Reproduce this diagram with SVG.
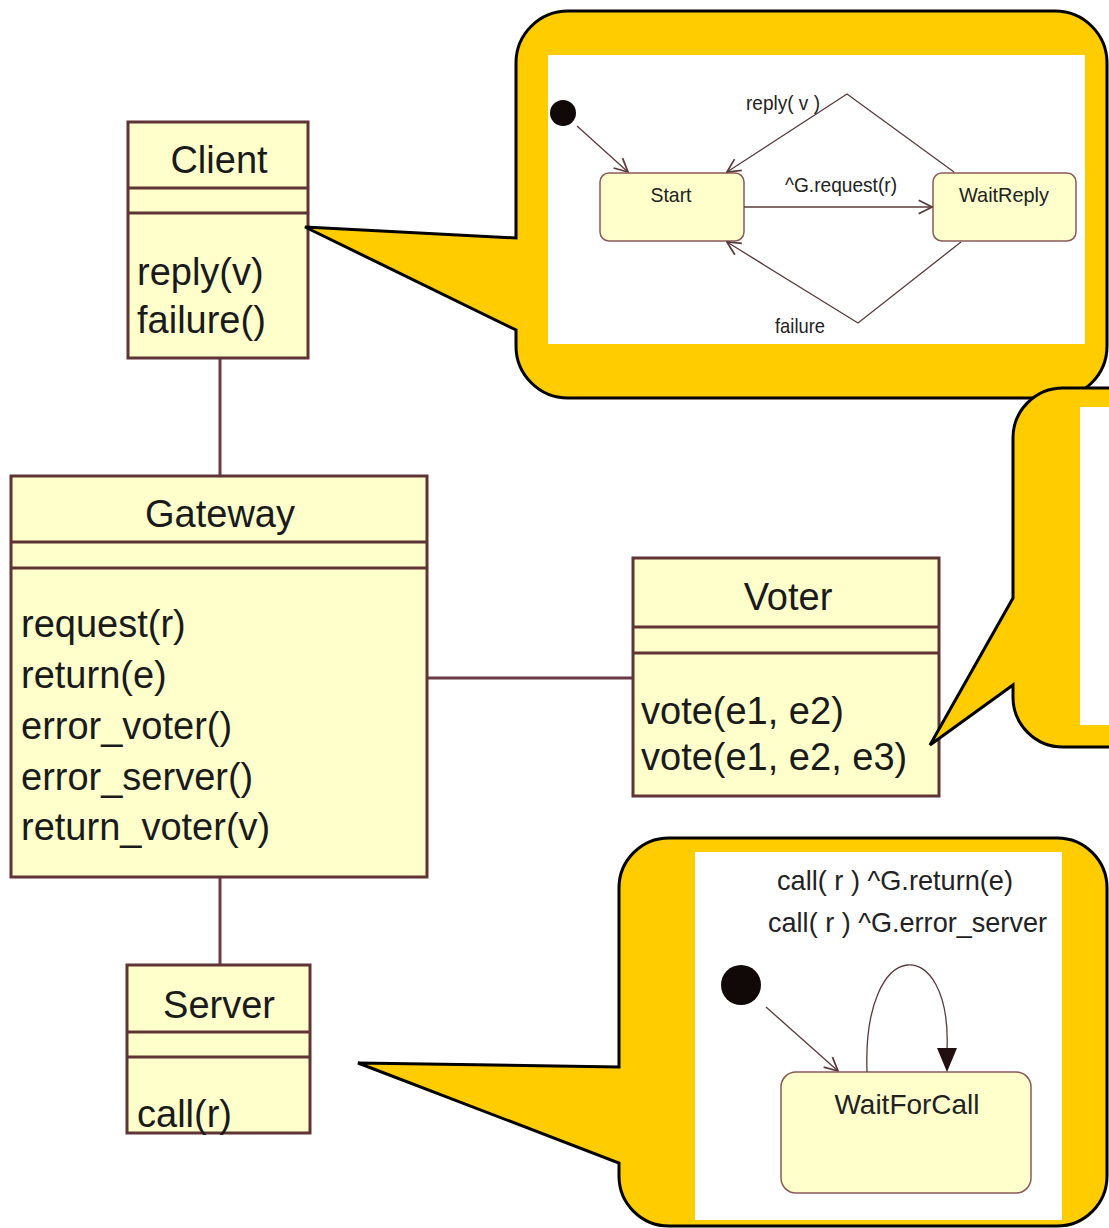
<svg xmlns="http://www.w3.org/2000/svg" width="1109" height="1228" viewBox="0 0 1109 1228">
<defs>
<style>
.cls{fill:#ffffcc;stroke:#5e3434;stroke-width:3}
.sep{stroke:#5e3434;stroke-width:3}
.ct{font-family:"Liberation Sans",Arial,sans-serif;font-size:38px;fill:#1a1a1a}
.mid{text-anchor:middle}
.conn{stroke:#6a3a48;stroke-width:3;fill:none}
.callout{fill:#ffcc00;stroke:#000;stroke-width:3;stroke-linejoin:miter}
.pic{fill:#ffffff}
.st{fill:#ffffcc;stroke:#8a5a5a;stroke-width:1.5}
.sl{fill:none;stroke:#5a3a3a;stroke-width:1.3}
.stt{font-family:"Liberation Sans",Arial,sans-serif;font-size:21px;fill:#222}
.stt2{font-family:"Liberation Sans",Arial,sans-serif;font-size:28px;fill:#222}
</style>
<marker id="open" viewBox="0 0 12 12" refX="11" refY="6" markerWidth="16" markerHeight="16" markerUnits="userSpaceOnUse" orient="auto">
<path d="M1,1 L11,6 L1,11" fill="none" stroke="#5a3a3a" stroke-width="1.3"/>
</marker>
</defs>
<rect width="1109" height="1228" fill="#ffffff"/>

<g id="connectors">
<line class="conn" x1="220" y1="358" x2="220" y2="476"/>
<line class="conn" x1="427" y1="678" x2="633" y2="678"/>
<line class="conn" x1="220" y1="877" x2="220" y2="965"/>
</g>

<g id="node-client">
<rect class="cls" x="128" y="122" width="180" height="236"/>
<line class="sep" x1="128" y1="188" x2="308" y2="188"/>
<line class="sep" x1="128" y1="213" x2="308" y2="213"/>
<text class="ct mid" x="219" y="173">Client</text>
<text class="ct" x="137" y="285">reply(v)</text>
<text class="ct" x="137" y="333">failure()</text>
</g>

<g id="node-gateway">
<rect class="cls" x="11" y="476" width="416" height="401"/>
<line class="sep" x1="11" y1="542" x2="427" y2="542"/>
<line class="sep" x1="11" y1="568" x2="427" y2="568"/>
<text class="ct mid" x="220" y="527">Gateway</text>
<text class="ct" x="21" y="637">request(r)</text>
<text class="ct" x="21" y="688">return(e)</text>
<text class="ct" x="21" y="739">error_voter()</text>
<text class="ct" x="21" y="790">error_server()</text>
<text class="ct" x="21" y="840">return_voter(v)</text>
</g>

<g id="node-voter">
<rect class="cls" x="633" y="558" width="306" height="238"/>
<line class="sep" x1="633" y1="627" x2="939" y2="627"/>
<line class="sep" x1="633" y1="653" x2="939" y2="653"/>
<text class="ct mid" x="788" y="610">Voter</text>
<text class="ct" x="641" y="724">vote(e1, e2)</text>
<text class="ct" x="641" y="770">vote(e1, e2, e3)</text>
</g>

<g id="node-server">
<rect class="cls" x="127" y="965" width="183" height="168"/>
<line class="sep" x1="127" y1="1032" x2="310" y2="1032"/>
<line class="sep" x1="127" y1="1057" x2="310" y2="1057"/>
<text class="ct mid" x="219" y="1018">Server</text>
<text class="ct" x="137" y="1127">call(r)</text>
</g>

<g id="callout-client">
<path class="callout" d="M568,11 H1055 A52 52 0 0 1 1107 63 V346 A52 52 0 0 1 1055 398 H568 A52 52 0 0 1 516 346 V330 L305 227 L516 238 V63 A52 52 0 0 1 568 11 Z"/>
<rect class="pic" x="548" y="55" width="537" height="289"/>
<circle cx="563" cy="113" r="13" fill="#110808"/>
<line class="sl" x1="577" y1="126" x2="628" y2="172" marker-end="url(#open)"/>
<rect class="st" x="600" y="173" width="144" height="68" rx="9"/>
<text class="stt mid" x="671" y="202" textLength="41" lengthAdjust="spacingAndGlyphs">Start</text>
<rect class="st" x="933" y="173" width="143" height="68" rx="9"/>
<text class="stt mid" x="1004" y="202" textLength="90" lengthAdjust="spacingAndGlyphs">WaitReply</text>
<line class="sl" x1="744" y1="207" x2="932" y2="207" marker-end="url(#open)"/>
<text class="stt mid" x="841" y="192" textLength="112" lengthAdjust="spacingAndGlyphs">^G.request(r)</text>
<polyline class="sl" points="954,172 847,94 727,172" marker-end="url(#open)"/>
<text class="stt mid" x="783" y="110" textLength="74" lengthAdjust="spacingAndGlyphs">reply( v )</text>
<polyline class="sl" points="961,242 858,323 727,242" marker-end="url(#open)"/>
<text class="stt mid" x="800" y="333" textLength="50" lengthAdjust="spacingAndGlyphs">failure</text>
</g>

<g id="callout-voter">
<path class="callout" d="M1063,388 H1170 V747 H1063 A50 50 0 0 1 1013 697 V685 L930 745 L1013 598 V438 A50 50 0 0 1 1063 388 Z"/>
<rect class="pic" x="1080" y="407" width="40" height="318"/>
</g>

<g id="callout-server">
<path class="callout" d="M669,838 H1057 A50 50 0 0 1 1107 888 V1176 A50 50 0 0 1 1057 1226 H669 A50 50 0 0 1 619 1176 V1163 L358 1063 L619 1067 V888 A50 50 0 0 1 669 838 Z"/>
<rect class="pic" x="695" y="852" width="367" height="368"/>
<text class="stt2" x="777" y="890" textLength="236" lengthAdjust="spacingAndGlyphs">call( r ) ^G.return(e)</text>
<text class="stt2" x="768" y="932" textLength="279" lengthAdjust="spacingAndGlyphs">call( r ) ^G.error_server</text>
<circle cx="741" cy="985" r="20" fill="#110808"/>
<line class="sl" x1="766" y1="1007" x2="838" y2="1071" marker-end="url(#open)"/>
<rect class="st" x="781" y="1072" width="250" height="121" rx="15"/>
<text class="stt2 mid" x="907" y="1114" textLength="145" lengthAdjust="spacingAndGlyphs">WaitForCall</text>
<path class="sl" d="M867,1072 C862,933 952,933 947,1050"/>
<polygon points="937,1048 957,1048 947,1072" fill="#221010"/>
</g>
</svg>
